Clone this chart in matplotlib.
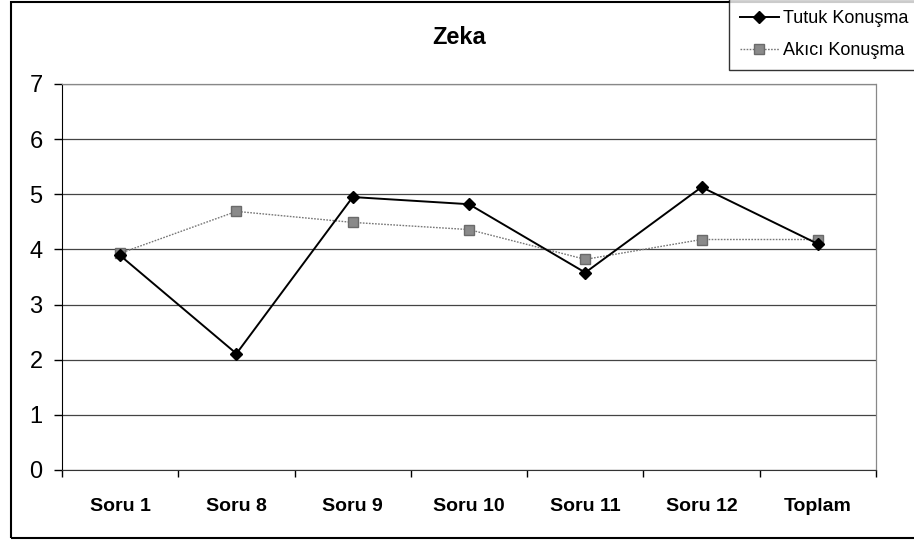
import matplotlib
matplotlib.use("Agg")
import matplotlib.pyplot as plt
from matplotlib.patches import Rectangle

plt.rcParams['font.family'] = ['Liberation Sans', 'DejaVu Sans']

categories = ["Soru 1", "Soru 8", "Soru 9", "Soru 10", "Soru 11", "Soru 12", "Toplam"]
tutuk = [3.89, 2.11, 4.95, 4.82, 3.58, 5.13, 4.10]
akici = [3.93, 4.69, 4.49, 4.36, 3.82, 4.18, 4.18]
yticks = [0, 1, 2, 3, 4, 5, 6, 7]

fig = plt.figure(figsize=(9.14, 5.40), dpi=100)
ax = fig.add_axes([62/914, 70/540, (876-62)/914, (470-84)/540])

x = list(range(len(categories)))
ax.plot(x, tutuk, color='black', lw=1.4, marker='D', ms=6.5, mfc='black', mec='black',
        label='Tutuk Konuşma', zorder=4)
ax.plot(x, akici, color='#777777', lw=1.0, ls=(0, (1.2, 1.0)), marker='s', ms=6.5,
        mfc='#8a8a8a', mec='#6a6a6a', label='Akıcı Konuşma', zorder=3)

ax.set_xlim(-0.5, len(categories) - 0.5)
ax.set_ylim(0, 7)
ax.set_yticks(yticks)
ax.set_yticklabels([str(v) for v in yticks], fontsize=17)
ax.set_xticks(x)
ax.set_xticklabels(categories, fontsize=14, fontweight='bold')
ax.tick_params(axis='x', length=0, pad=20)
ax.set_xticks([i - 0.5 for i in range(len(categories) + 1)], minor=True)
ax.tick_params(axis='x', which='minor', length=5, width=1, color='black', direction='out')
ax.tick_params(axis='y', length=6, width=1, direction='out', pad=8)

ax.grid(axis='y', color='#444444', lw=0.9)
ax.set_axisbelow(True)
for s in ['top', 'right']:
    ax.spines[s].set_color('#888888')
    ax.spines[s].set_linestyle((0, (1, 1)))
    ax.spines[s].set_linewidth(0.9)
ax.spines['left'].set_color('black')
ax.spines['bottom'].set_color('#333333')

fig.text(459/914, 1 - 37/540, 'Zeka', fontsize=17, fontweight='bold', ha='center', va='center')

fig.patches.append(Rectangle((11/914, 2/540), 1.0, 536/540, transform=fig.transFigure,
                             fill=False, ec='black', lw=1.5))

leg = fig.legend(loc='upper left', bbox_to_anchor=(729/914, 1.0 + 1/540), fontsize=13,
                 frameon=True, fancybox=False, edgecolor='black', handlelength=2.15,
                 handletextpad=0.25, borderpad=0.6, labelspacing=0.85, borderaxespad=0)
leg.get_frame().set_linewidth(1.0)

fig.savefig('out.png', dpi=100)
